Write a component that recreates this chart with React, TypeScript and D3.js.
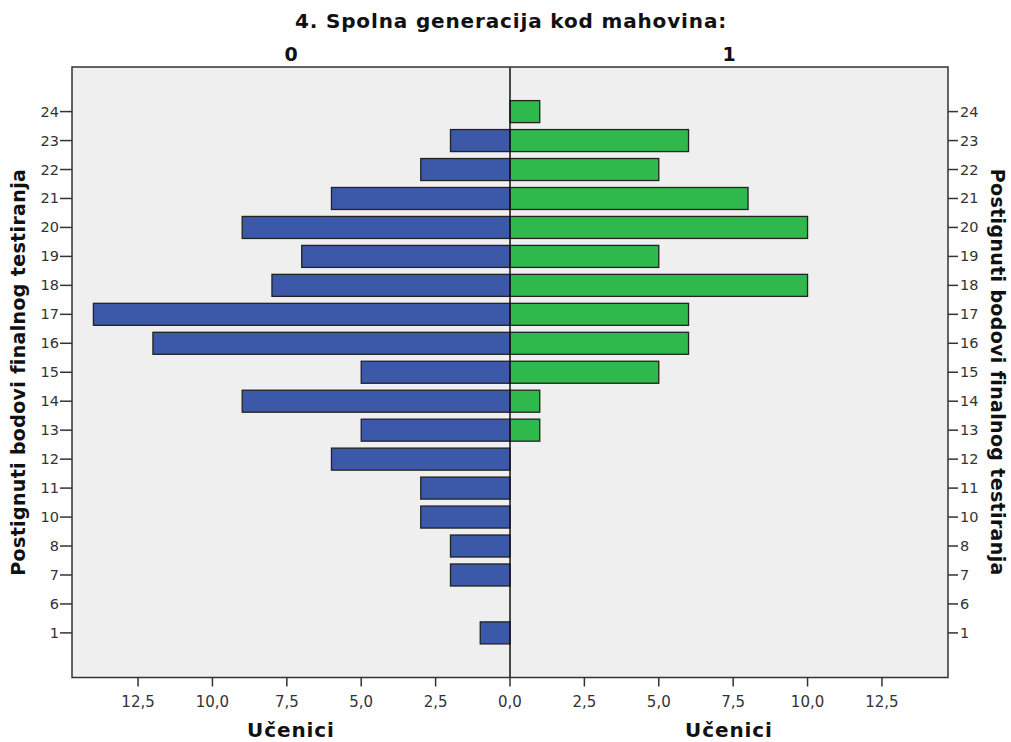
import React from "react";
import * as d3 from "d3";

const categories = ["24", "23", "22", "21", "20", "19", "18", "17", "16", "15", "14", "13", "12", "11", "10", "8", "7", "6", "1"];
const valuesLeft = [0, 2, 3, 6, 9, 7, 8, 14, 12, 5, 9, 5, 6, 3, 3, 2, 2, 0, 1];
const valuesRight = [1, 6, 5, 8, 10, 5, 10, 6, 6, 5, 1, 1, 0, 0, 0, 0, 0, 0, 0];
const xTicks = [0, 2.5, 5, 7.5, 10, 12.5];
const panelLabels = ["0", "1"];
const title = "4. Spolna generacija kod mahovina:";
const xTitle = "Učenici";
const yTitle = "Postignuti bodovi finalnog testiranja";

const W = 1011;
const H = 742;
const left = 72;
const right = 948;
const mid = 510;
const top = 67;
const bottom = 677.5;
const xMax = 14.72;
const FONT = "'DejaVu Sans', Verdana, sans-serif";

export default function App() {
  const y = d3.scaleBand<string>().domain(categories).range([top, bottom]).paddingInner(0.24).paddingOuter(1.16);
  const xL = d3.scaleLinear().domain([0, xMax]).range([mid, left]);
  const xR = d3.scaleLinear().domain([0, xMax]).range([mid, right]);
  const fmt = (v: number) => d3.format(".1f")(v).replace(".", ",");
  const bw = y.bandwidth();
  return (
    <svg width={W} height={H} style={{ position: "absolute", left: 0, top: 0, background: "#fff" }} fontFamily={FONT}>
      <rect x={0} y={0} width={W} height={H} fill="#fff" />
      <text x={(left + right) / 2 + 1} y={28} textAnchor="middle" fontSize={20} fontWeight="bold" fill="#111" letterSpacing={0.85}>{title}</text>
      <text x={(left + mid) / 2} y={61} textAnchor="middle" fontSize={19} fontWeight="bold" fill="#111">{panelLabels[0]}</text>
      <text x={(mid + right) / 2} y={61} textAnchor="middle" fontSize={19} fontWeight="bold" fill="#111">{panelLabels[1]}</text>
      <rect x={left} y={top} width={right - left} height={bottom - top} fill="#efefef" />
      {categories.map((c, i) => (
        <g key={c}>
          {valuesLeft[i] > 0 && (
            <rect x={xL(valuesLeft[i])} y={y(c)} width={mid - xL(valuesLeft[i])} height={bw} fill="#3c58a8" stroke="#222" strokeWidth={1.3} />
          )}
          {valuesRight[i] > 0 && (
            <rect x={mid} y={y(c)} width={xR(valuesRight[i]) - mid} height={bw} fill="#2fb84b" stroke="#222" strokeWidth={1.3} />
          )}
        </g>
      ))}
      <line x1={mid} x2={mid} y1={top} y2={bottom} stroke="#111" strokeWidth={1.5} />
      <rect x={left} y={top} width={right - left} height={bottom - top} fill="none" stroke="#333" strokeWidth={1.5} />
      {categories.map((c) => {
        const cy = (y(c) as number) + bw / 2;
        return (
          <g key={"t" + c} fontSize={14.5} fill="#333">
            <line x1={left - 12} x2={left} y1={cy} y2={cy} stroke="#333" strokeWidth={1.5} />
            <text x={left - 13} y={cy + 5} textAnchor="end">{c}</text>
            <line x1={right} x2={right + 10} y1={cy} y2={cy} stroke="#333" strokeWidth={1.5} />
            <text x={right + 12} y={cy + 5} textAnchor="start">{c}</text>
          </g>
        );
      })}
      {xTicks.map((t) => (
        <g key={"xl" + t} fontSize={15} fill="#333">
          <line x1={xL(t)} x2={xL(t)} y1={bottom} y2={bottom + 9} stroke="#333" strokeWidth={1.5} />
          <text x={xL(t)} y={707} textAnchor="middle">{fmt(t)}</text>
        </g>
      ))}
      {xTicks.filter((t) => t > 0).map((t) => (
        <g key={"xr" + t} fontSize={15} fill="#333">
          <line x1={xR(t)} x2={xR(t)} y1={bottom} y2={bottom + 9} stroke="#333" strokeWidth={1.5} />
          <text x={xR(t)} y={707} textAnchor="middle">{fmt(t)}</text>
        </g>
      ))}
      <text x={(left + mid) / 2} y={737} textAnchor="middle" fontSize={20} fontWeight="bold" fill="#111" letterSpacing={0.9}>{xTitle}</text>
      <text x={(mid + right) / 2} y={737} textAnchor="middle" fontSize={20} fontWeight="bold" fill="#111" letterSpacing={0.9}>{xTitle}</text>
      <text transform={`translate(25,${(top + bottom) / 2}) rotate(-90)`} textAnchor="middle" fontSize={19} fontWeight="bold" fill="#111" letterSpacing={0.35}>{yTitle}</text>
      <text transform={`translate(991,${(top + bottom) / 2}) rotate(90)`} textAnchor="middle" fontSize={19} fontWeight="bold" fill="#111" letterSpacing={0.35}>{yTitle}</text>
    </svg>
  );
}
